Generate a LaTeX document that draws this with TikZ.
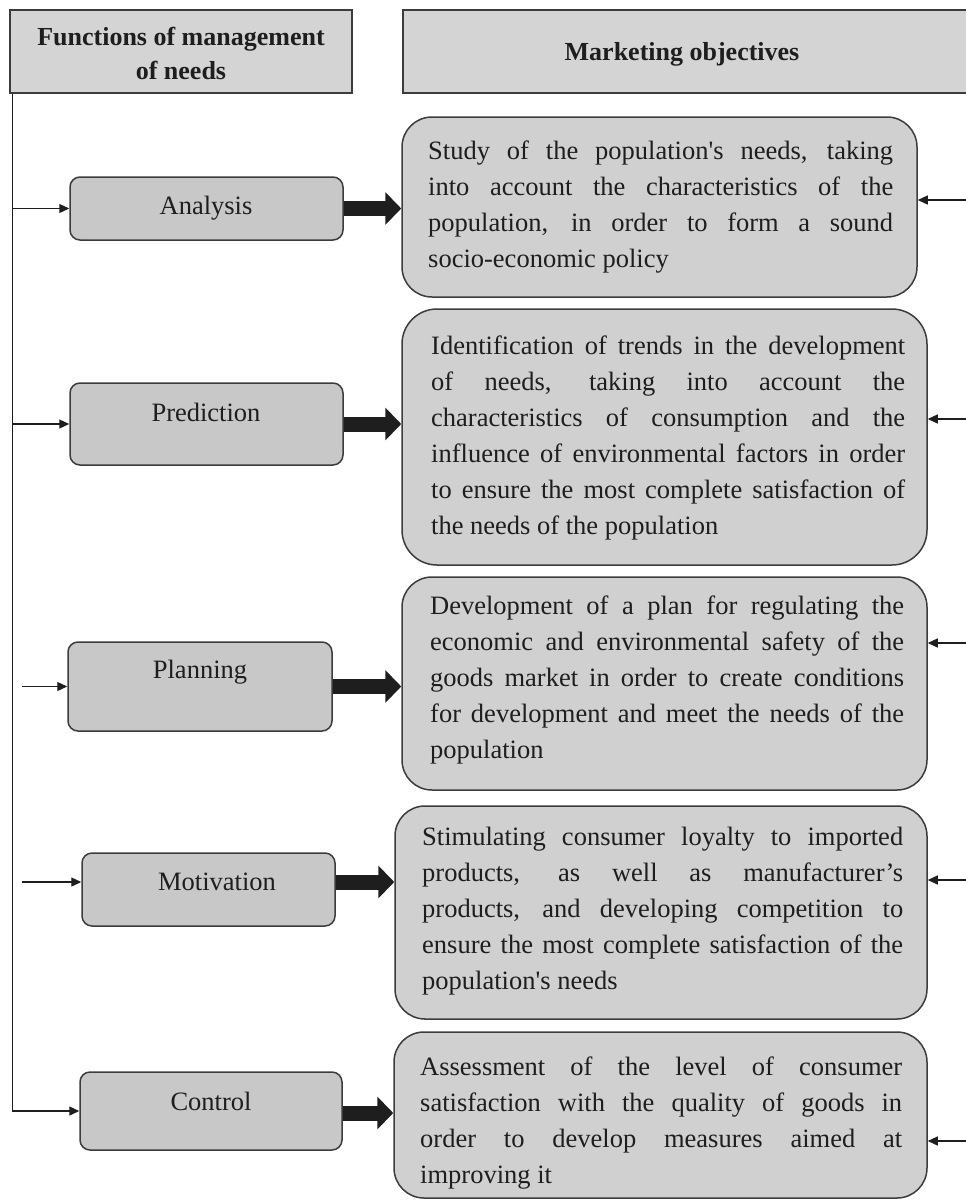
\documentclass[tikz,border=0pt]{standalone}
\usepackage{fontspec}
\setmainfont{Liberation Serif}
\usetikzlibrary{arrows.meta,calc}
\definecolor{hdrfill}{RGB}{212,212,212}
\definecolor{lfill}{RGB}{200,200,200}
\definecolor{ofill}{RGB}{208,208,208}
\definecolor{edge}{RGB}{60,60,60}
\definecolor{ink}{RGB}{30,30,30}
\hyphenpenalty=10000
\exhyphenpenalty=10000
\tolerance=10000
\begin{document}
\begin{tikzpicture}[x=1pt,y=-1pt,
  hdr/.style={draw=edge, line width=1.5pt, fill=hdrfill, rectangle, inner sep=0pt},
  fbox/.style={draw=edge, line width=1.5pt, fill=lfill, rounded corners=10pt, inner sep=0pt},
  obox/.style={draw=edge, line width=1.5pt, fill=ofill, rounded corners=30pt, inner sep=0pt},
  htext/.style={font=\fontsize{26}{34}\selectfont\bfseries, align=center, text=ink, inner sep=0pt},
  ftext/.style={font=\fontsize{26.5}{32}\selectfont, text=ink, inner sep=0pt},
  otext/.style={font=\fontsize{26.5}{36}\selectfont, align=justify, anchor=base west, inner sep=0pt, text=ink},
  link/.style={draw=ink, line width=1.3pt, -{Triangle[length=10pt,width=9pt]}},
  bigarrow/.style={draw=ink, line width=15pt, -{Triangle[length=16pt,width=32pt]}},
]
\useasboundingbox (0,0) rectangle (966,1200);
\clip (0,0) rectangle (966,1200);

% headers
\node[hdr, minimum width=342pt, minimum height=83pt] (h1) at (181,51.5) {};
\node[htext] (h1t) at (181,53) {Functions of management\\of needs};
\node[hdr, minimum width=572pt, minimum height=83pt] (h2) at (689,51.5) {};
\node[htext] (h2t) at (682,54) {Marketing objectives};

% function boxes
\node[fbox, minimum width=273pt, minimum height=63pt] (an) at (206.5,208.5) {};
\node[ftext] (ant) at (206,208) {Analysis};
\node[fbox, minimum width=273pt, minimum height=82pt] (pr) at (206.5,424) {};
\node[ftext] (prt) at (206,412) {Prediction};
\node[fbox, minimum width=264pt, minimum height=89pt] (pl) at (200,686.5) {};
\node[ftext] (plt) at (200,672) {Planning};
\node[fbox, minimum width=253pt, minimum height=73pt] (mo) at (208.5,889.5) {};
\node[ftext] (mot) at (217,882) {Motivation};
\node[fbox, minimum width=262pt, minimum height=78pt] (co) at (211,1111) {};
\node[ftext] (cot) at (211,1101) {Control};

% objective boxes
\node[obox, minimum width=515pt, minimum height=180pt] (o1) at (659.5,207) {};
\node[otext, text width=465pt] (o1t) at (428,159) {Study of the population\textquotesingle s needs, taking\linebreak into account the characteristics of the\linebreak population, in order to form a sound\linebreak socio-economic policy};
\node[obox, minimum width=525pt, minimum height=256pt, rounded corners=35pt] (o2) at (664.5,437) {};
\node[otext, text width=474pt] (o2t) at (431,354) {Identification of trends in the development\linebreak of needs, taking into account the\linebreak characteristics of consumption and the\linebreak influence of environmental factors in order\linebreak to ensure the most complete satisfaction of\linebreak the needs of the population};
\node[obox, minimum width=525pt, minimum height=213pt] (o3) at (664.5,683.5) {};
\node[otext, text width=474pt] (o3t) at (430,614) {Development of a plan for regulating the\linebreak economic and environmental safety of the\linebreak goods market in order to create conditions\linebreak for development and meet the needs of the\linebreak population};
\node[obox, minimum width=532pt, minimum height=213pt] (o4) at (661,912.5) {};
\node[otext, text width=481pt] (o4t) at (422,845) {Stimulating consumer loyalty to imported\linebreak products, as well as manufacturer’s\linebreak products, and developing competition to\linebreak ensure the most complete satisfaction of the\linebreak population\textquotesingle s needs};
\node[obox, minimum width=533pt, minimum height=166pt] (o5) at (660.5,1115) {};
\node[otext, text width=482pt] (o5t) at (420,1075) {Assessment of the level of consumer\linebreak satisfaction with the quality of goods in\linebreak order to develop measures aimed at\linebreak improving it};

% spine and thin arrows
\coordinate (top) at ([xshift=3pt]h1.south west);
\draw[link] (top) |- (co.west);
\coordinate (s1) at (13,208.5);
\coordinate (s2) at (13,424);
\coordinate (s3) at (22,686.5);
\coordinate (s4) at (22,882);
\draw[link] (s1) -- (s1 -| an.west);
\draw[link] (s2) -- (s2 -| pr.west);
\draw[link] (s3) -- (s3 -| pl.west);
\draw[link] (s4) -- (s4 -| mo.west);

% thick arrows
\draw[bigarrow] (an.east) -- (an.east -| o1.west);
\draw[bigarrow] (pr.east) -- (pr.east -| o2.west);
\draw[bigarrow] (pl.east) -- (pl.east -| o3.west);
\draw[bigarrow] ([yshift=7.5pt]mo.east) -- ([yshift=7.5pt]mo.east -| o4.west);
\draw[bigarrow] ([yshift=-2pt]co.east) -- ([yshift=-2pt]co.east -| o5.west);

% right incoming arrows
\coordinate (r1) at (975,200);
\coordinate (r2) at (975,419);
\coordinate (r3) at (975,643);
\coordinate (r4) at (975,880);
\coordinate (r5) at (975,1141);
\draw[link] (r1) -- (r1 -| o1.east);
\draw[link] (r2) -- (r2 -| o2.east);
\draw[link] (r3) -- (r3 -| o3.east);
\draw[link] (r4) -- (r4 -| o4.east);
\draw[link] (r5) -- (r5 -| o5.east);
\end{tikzpicture}
\end{document}
